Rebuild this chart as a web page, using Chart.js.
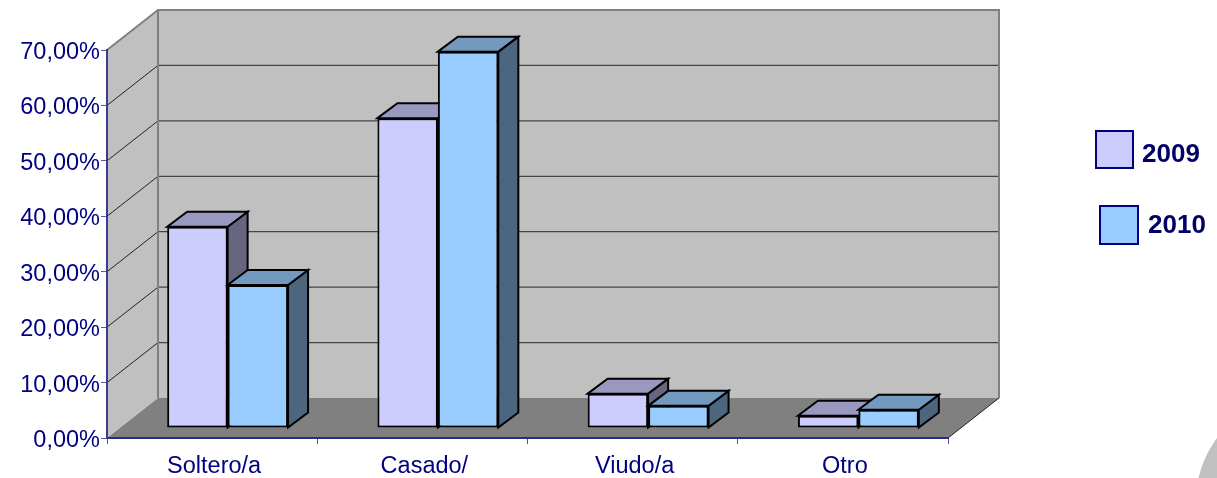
<!DOCTYPE html>
<html><head><meta charset="utf-8">
<style>html,body{margin:0;padding:0;background:#fff}canvas{display:block}</style>
<script src="https://cdn.jsdelivr.net/npm/chart.js@4"></script>
</head><body><canvas id="c" width="1217" height="478"></canvas>
<script>
const categories = ['Soltero/a','Casado/','Viudo/a','Otro'];
const values2009 = [36.3,55.9,6.2,2.2];
const values2010 = [25.8,67.9,4.0,3.3];
const seriesNames = ['2009','2010'];
const FONT = '"Liberation Sans", Arial, sans-serif';
const NAVY = '#000080';
const wallDx = 51, wallDy = -40;       // depth of the 3D box
const barShiftX = 15.5, barShiftY = -10; // where bars stand on the floor
const barDx = 20, barDy = -15;         // depth of each bar
const faces = [
  {front:'#ccccff', top:'#9999bf', side:'#666680'},
  {front:'#99ccff', top:'#7399bf', side:'#4d6680'}
];
const legendBoxes = [{x:1096,y:131,s:37,tx:1142,ty:155},{x:1100,y:206,s:38,tx:1148,ty:226}];

function poly(ctx, pts, fill, stroke, lw){
  ctx.beginPath();
  pts.forEach((p,i)=> i ? ctx.lineTo(p[0],p[1]) : ctx.moveTo(p[0],p[1]));
  ctx.closePath();
  if(fill){ctx.fillStyle=fill;ctx.fill();}
  if(stroke){ctx.strokeStyle=stroke;ctx.lineWidth=lw;ctx.lineJoin='miter';ctx.stroke();}
}
function line(ctx,x1,y1,x2,y2,c,w){
  ctx.beginPath();ctx.moveTo(x1,y1);ctx.lineTo(x2,y2);ctx.strokeStyle=c;ctx.lineWidth=w;ctx.stroke();
}
const box3d = {
  id:'box3d',
  beforeDraw(chart){
    const {ctx,chartArea:a,scales:{x,y}} = chart;
    // small nudges of the axis labels
    [[x,2,0],[y,0,2.5]].forEach(([s,dx,dy])=>{
      if(s._nudged) return; s._nudged=true;
      const orig=s.drawLabels;
      s.drawLabels=function(area){ctx.save();ctx.translate(dx,dy);orig.call(this,area);ctx.restore();};
    });
    ctx.save();
    // decorative corner
    ctx.beginPath();ctx.arc(1301,501,105,0,Math.PI*2);ctx.fillStyle='#c0c0c0';ctx.fill();
    const L=a.left,R=a.right,T=a.top,B=a.bottom;
    // walls
    poly(ctx,[[L,B],[L,T],[L+wallDx,T+wallDy],[L+wallDx,B+wallDy]],'#c0c0c0');
    poly(ctx,[[L+wallDx,T+wallDy],[R+wallDx,T+wallDy],[R+wallDx,B+wallDy],[L+wallDx,B+wallDy]],'#c0c0c0');
    // grid
    y.ticks.forEach(t=>{
      const p=y.getPixelForValue(t.value);
      if(t.value>0 && t.value<70){
        line(ctx,L,p,L+wallDx,p+wallDy,'#222',1);
        line(ctx,L+wallDx,p+wallDy,R+wallDx,p+wallDy,'#444',1.2);
      }
    });
    // floor
    poly(ctx,[[L,B],[L+wallDx,B+wallDy],[R+wallDx,B+wallDy],[R,B]],'#808080');
    // frame
    line(ctx,L,T,L+wallDx,T+wallDy,'#808080',2);
    line(ctx,L+wallDx,T+wallDy,L+wallDx,B+wallDy,'#808080',2);
    line(ctx,L+wallDx-1,T+wallDy,R+wallDx+1,T+wallDy,'#808080',2);
    line(ctx,R+wallDx,T+wallDy,R+wallDx,B+wallDy,'#808080',2);
    line(ctx,R,B,R+wallDx,B+wallDy,'#222',1);
    ctx.restore();
  },
  beforeDatasetsDraw(chart){
    // each series is drawn as a cuboid, 2009 first so that 2010 overlaps it
    const ctx=chart.ctx;
    ctx.save();
    ctx.translate(barShiftX,barShiftY);
    chart.data.datasets.forEach((ds,i)=>{
      const meta=chart.getDatasetMeta(i), f=faces[i];
      meta.data.forEach(el=>{
        const l=el.x-el.width/2,r=el.x+el.width/2,t=el.y,b=el.base;
        poly(ctx,[[r,t],[r+barDx,t+barDy],[r+barDx,b+barDy],[r,b]],f.side,'#000',2);
        poly(ctx,[[l,t],[l+barDx,t+barDy],[r+barDx,t+barDy],[r,t]],f.top,'#000',2);
      });
      meta.controller.draw();
    });
    ctx.restore();
    return false;
  },
  afterDraw(chart){
    const ctx=chart.ctx;
    ctx.save();
    chart.data.datasets.forEach((ds,i)=>{
      const b=legendBoxes[i];
      ctx.fillStyle=faces[i].front;ctx.strokeStyle=NAVY;ctx.lineWidth=2;
      ctx.fillRect(b.x,b.y,b.s,b.s);ctx.strokeRect(b.x,b.y,b.s,b.s);
      ctx.fillStyle='#000066';ctx.font='bold 26px '+FONT;ctx.textAlign='left';ctx.textBaseline='middle';
      ctx.fillText(ds.label,b.tx,b.ty);
    });
    ctx.restore();
  }
};
new Chart(document.getElementById('c'),{
  type:'bar',
  data:{labels:categories,datasets:[
    {label:seriesNames[0],data:values2009,backgroundColor:faces[0].front,borderColor:'#000',borderWidth:2,borderSkipped:false},
    {label:seriesNames[1],data:values2010,backgroundColor:faces[1].front,borderColor:'#000',borderWidth:2,borderSkipped:false}
  ]},
  plugins:[box3d],
  options:{
    responsive:false,animation:false,
    layout:{padding:{top:50,right:269,left:0,bottom:0}},
    categoryPercentage:0.575,barPercentage:1,
    plugins:{legend:{display:false},tooltip:{enabled:false},title:{display:false}},
    scales:{
      x:{
        afterFit(s){s.height=40;},
        grid:{drawOnChartArea:false,drawTicks:true,tickLength:6,color:'#4d4d99',tickColor:'#4d4d99',offset:true},
        border:{color:'#2a2a8a',width:2},
        ticks:{color:NAVY,font:{family:FONT,size:23.5},padding:8,maxRotation:0}
      },
      y:{
        min:0,max:70,
        afterFit(s){s.width=107;},
        grid:{drawOnChartArea:false,drawTicks:true,tickLength:6,tickColor:'#5a5aa5'},
        border:{color:'#3a3a90',width:2},
        ticks:{stepSize:10,color:NAVY,font:{family:FONT,size:23.5},padding:1,callback:v=>v.toFixed(2).replace('.',',')+'%'}
      }
    }
  }
});
</script></body></html>
